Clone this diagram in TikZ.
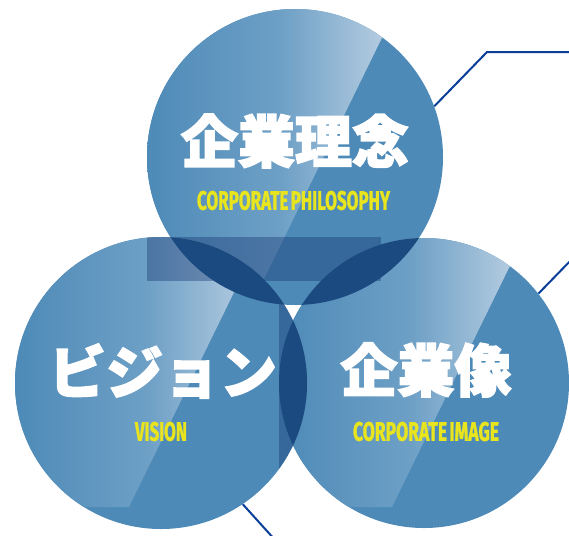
\documentclass[tikz,border=0pt]{standalone}
\usepackage{fontspec}
\usepackage{graphicx}
\newfontfamily\cjk{Noto Sans CJK JP}[BoldFeatures={FakeBold=2.6}]
\newfontfamily\subfont{Fira Sans}[BoldFeatures={FakeBold=1.5}]
\definecolor{basec}{RGB}{77,138,183}
\definecolor{hlc}{RGB}{190,210,228}
\definecolor{midc}{RGB}{110,160,198}
\definecolor{lensc}{RGB}{27,74,129}
\definecolor{shadec}{RGB}{20,50,110}
\definecolor{linec}{RGB}{10,62,152}
\definecolor{subc}{RGB}{232,228,30}
\pgfdeclarehorizontalshading{hlshade}{100bp}{color(0bp)=(basec); color(25bp)=(basec); color(52bp)=(midc); color(75bp)=(hlc); color(100bp)=(hlc)}
\newcommand\dohl[3]{%
  \begin{scope}
    \clip (#1,#2) circle[radius=#3pt];
    \shade[shading=hlshade]
      ({#1-#3-2},{#2-152}) -- ({#1+103},{#2-152}) -- ({#1-32},{#2+124}) -- ({#1-#3-2},{#2+124}) -- cycle;
  \end{scope}}
\begin{document}
\begin{tikzpicture}[x=1pt,y=-1pt,
  bubble/.style={circle, inner sep=0pt},
  conn/.style={draw=linec, line width=2pt},
  title/.style={text=white, font=\cjk\bfseries\fontsize{57}{57}\selectfont, inner sep=0pt},
  sub/.style={text=subc, inner sep=0pt}]
\useasboundingbox (0,0) rectangle (569,535);

% circle nodes (positions / anchors)
\node[bubble, minimum size=296pt] (top) at (295,157) {};
\node[bubble, minimum size=292pt] (left) at (161,383) {};
\node[bubble, minimum size=290pt] (right) at (424,383) {};

\coordinate (c1) at (487,52);
\coordinate (e1) at (575,52);
\coordinate (e2) at (575,256);
\coordinate (e3) at (276,541);

% connectors (under the circles)
\draw[conn] (top.20) -- (c1) -- (e1);
\draw[conn] (right.38) -- (e2);
\draw[conn] (left.-56.6) -- (e3);

% circles
\fill[basec] (top.center) circle[radius=148pt];
\fill[basec] (left.center) circle[radius=146pt];
\fill[basec] (right.center) circle[radius=145pt];

% highlights
\dohl{295}{157}{148}
\dohl{161}{383}{146}
\dohl{424}{383}{145}

% dark overlays
\begin{scope}
  \clip (295,157) circle[radius=148pt] (161,383) circle[radius=146pt] (424,383) circle[radius=145pt];
  \fill[shadec, opacity=0.38] (147,237) rectangle (381,281);
\end{scope}
\begin{scope}
  \clip (161,383) circle[radius=146pt];
  \fill[shadec, opacity=0.38] (279,237) rectangle (420,507);
\end{scope}

% lenses
\begin{scope}
  \clip (295,157) circle[radius=148pt];
  \fill[lensc] (161,383) circle[radius=146pt];
  \fill[lensc] (424,383) circle[radius=145pt];
\end{scope}
\begin{scope}
  \clip (161,383) circle[radius=146pt];
  \fill[lensc] (424,383) circle[radius=145pt];
\end{scope}

% texts
\node[title] (t1) at (295,141) {企業理念};
\node[title] (t2) at (163,371) {ビジョン};
\node[title] (t3) at (426,370) {企業像};
\node[sub] (s1) at (293.5,200.5) {\resizebox{193pt}{19pt}{\subfont\bfseries CORPORATE\kern-0.1em\ PHILOSOPHY}};
\node[sub] (s2) at (161,431.5) {\resizebox{52pt}{19pt}{\subfont\bfseries VISION}};
\node[sub] (s3) at (426,431.5) {\resizebox{146pt}{19pt}{\subfont\bfseries CORPORATE\kern-0.1em\ IMAGE}};
\end{tikzpicture}
\end{document}
